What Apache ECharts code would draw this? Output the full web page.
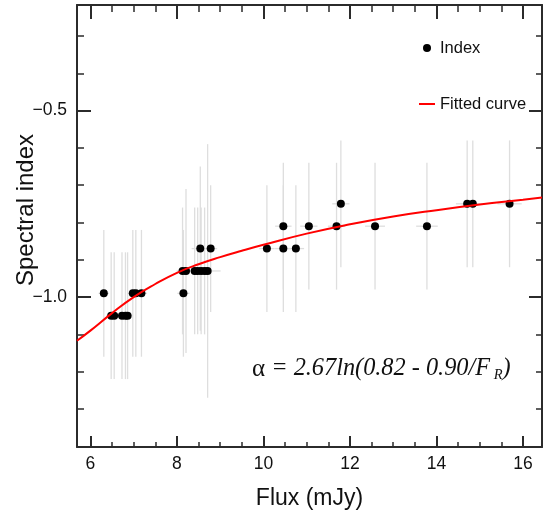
<!DOCTYPE html>
<html>
<head>
<meta charset="utf-8">
<script src="https://cdn.jsdelivr.net/npm/echarts@6/dist/echarts.min.js"></script>
<style>
  html, body { margin: 0; padding: 0; background: #fff; }
  #chart { width: 544px; height: 515px; }
</style>
</head>
<body>
<div id="chart"></div>
<script>
// observations: flux (mJy), spectral index and their errors
const flux = [6.31, 6.48, 6.55, 6.73, 6.81, 6.86, 6.98, 7.05, 7.18, 8.15, 8.13, 8.21, 8.41, 8.48, 8.56, 8.64, 8.71, 8.54, 8.78,
  10.08, 10.46, 10.46, 10.75, 11.05, 11.69, 11.79, 12.58, 13.78, 14.71, 14.84, 15.69]
const index = [-0.99, -1.05, -1.05, -1.05, -1.05, -1.05, -0.99, -0.99, -0.99, -0.99, -0.93, -0.93, -0.93, -0.93, -0.93, -0.93, -0.93, -0.87, -0.87,
  -0.87, -0.81, -0.87, -0.87, -0.81, -0.81, -0.75, -0.81, -0.81, -0.75, -0.75, -0.75]
const fluxErr = [0.12, 0.12, 0.12, 0.12, 0.12, 0.12, 0.13, 0.13, 0.13, 0.14, 0.14, 0.14, 0.15, 0.15, 0.15, 0.15, 0.3, 0.2, 0.15,
  0.18, 0.19, 0.19, 0.19, 0.2, 0.2, 0.2, 0.23, 0.25, 0.26, 0.26, 0.28]
const indexErr = [0.17, 0.17, 0.17, 0.17, 0.17, 0.17, 0.17, 0.17, 0.17, 0.17, 0.17, 0.22, 0.17, 0.17, 0.17, 0.17, 0.34, 0.22, 0.17,
  0.17, 0.17, 0.17, 0.17, 0.17, 0.17, 0.17, 0.17, 0.17, 0.17, 0.17, 0.17]

// fitted curve
const fitFlux = [5.69, 6.0, 6.5, 7.0, 7.5, 8.0, 8.5, 9.0, 9.5, 10.0, 11.0, 12.0, 13.0, 14.0, 15.0, 16.0, 16.44]
const fitIndex = [-1.117, -1.090, -1.043, -1.000, -0.965, -0.935, -0.912, -0.893, -0.876, -0.860, -0.830, -0.805, -0.784, -0.767, -0.752, -0.739, -0.733]

// ticks
const xMajor = [6, 8, 10, 12, 14, 16]
const xMinor = [6.5, 7, 7.5, 8.5, 9, 9.5, 10.5, 11, 11.5, 12.5, 13, 13.5, 14.5, 15, 15.5]
const yMajor = [-1.0, -0.5]
const yMinor = [-1.3, -1.2, -1.1, -0.9, -0.8, -0.7, -0.6, -0.4, -0.3]

const frameColor = '#2b2b2b'
const sans = 'Liberation Sans, Arial, sans-serif'
const serif = 'Liberation Serif, serif'

function edge(position, ticks, len, tickWidth, lineShow, labelShow, min, max) {
  return {
    type: 'value',
    position: position,
    min: min,
    max: max,
    axisLine: { show: lineShow, lineStyle: { color: frameColor, width: 2 } },
    axisTick: { show: true, inside: true, length: len, customValues: ticks, lineStyle: { color: frameColor, width: tickWidth } },
    axisLabel: {
      show: labelShow,
      customValues: ticks,
      color: '#111',
      fontSize: 17.5,
      fontFamily: sans,
      margin: position === 'left' ? 10 : 8,
      formatter: v => position === 'left' ? v.toFixed(1).replace('-', '\u2212') : String(v)
    },
    splitLine: { show: false }
  }
}

const bottomAxis = Object.assign(edge('bottom', xMajor, 11, 2, true, true, 5.69, 16.44), {
  name: 'Flux (mJy)',
  nameLocation: 'middle',
  nameGap: 40,
  nameTextStyle: { fontSize: 23, fontFamily: sans, color: '#111' }
})

const chart = echarts.init(document.getElementById('chart'))
chart.setOption({
  animation: false,
  grid: { left: 77, right: 2, top: 5, bottom: 67 },
  xAxis: [
    bottomAxis,
    edge('bottom', xMinor, 5, 1.5, false, false, 5.69, 16.44),
    edge('top', xMajor, 14, 2, true, false, 5.69, 16.44),
    edge('top', xMinor, 7, 1.5, false, false, 5.69, 16.44)
  ],
  yAxis: [
    edge('left', yMajor, 14, 2, true, true, -1.402, -0.217),
    edge('left', yMinor, 7, 1.5, false, false, -1.402, -0.217),
    edge('right', yMajor, 13, 2, true, false, -1.402, -0.217),
    edge('right', yMinor, 6, 1.5, false, false, -1.402, -0.217)
  ],
  legend: {
    left: 413,
    top: 33,
    orient: 'vertical',
    itemWidth: 16,
    itemHeight: 8,
    itemGap: 36,
    selectedMode: false,
    textStyle: { fontSize: 16.5, fontFamily: sans, color: '#111', lineHeight: 20 },
    data: ['Index', { name: 'Fitted curve', itemStyle: { opacity: 0 } }]
  },
  graphic: [
    {
      type: 'text',
      x: 26,
      y: 210,
      rotation: Math.PI / 2,
      style: { text: 'Spectral index', font: '24px ' + sans, fill: '#111', align: 'center', verticalAlign: 'middle' }
    },
    {
      type: 'text',
      left: 252,
      top: 342,
      style: {
        text: '{g|\u03b1}{i| = 2.67ln(0.82 - 0.90/F}{s| R}{i|)}',
        rich: {
          g: { fontFamily: serif, fontSize: 25, fill: '#111', lineHeight: 26, verticalAlign: 'top' },
          i: { fontFamily: serif, fontStyle: 'italic', fontSize: 24.3, fill: '#111', lineHeight: 26, verticalAlign: 'top' },
          s: { fontFamily: serif, fontStyle: 'italic', fontSize: 14.5, fill: '#111', lineHeight: 14, padding: [26, 0, 0, 0], verticalAlign: 'bottom' }
        }
      }
    }
  ],
  series: [
    {
      name: 'errors',
      type: 'custom',
      xAxisIndex: 0,
      yAxisIndex: 0,
      encode: { x: 0, y: 1 },
      data: flux.map((f, i) => [f, index[i], fluxErr[i], indexErr[i]]),
      renderItem: (params, api) => {
        const x = api.value(0)
        const y = api.value(1)
        const top = api.coord([x, y + api.value(3)])
        const bot = api.coord([x, y - api.value(3)])
        const l = api.coord([x - api.value(2), y])
        const r = api.coord([x + api.value(2), y])
        const style = { stroke: '#dedede', lineWidth: 1.3 }
        return {
          type: 'group',
          children: [
            { type: 'line', shape: { x1: top[0], y1: top[1], x2: bot[0], y2: bot[1] }, style: style },
            { type: 'line', shape: { x1: l[0], y1: l[1], x2: r[0], y2: r[1] }, style: style }
          ]
        }
      },
      z: 1
    },
    {
      name: 'Index',
      type: 'scatter',
      symbol: 'circle',
      symbolSize: 8,
      itemStyle: { color: '#000', opacity: 1 },
      data: flux.map((f, i) => [f, index[i]]),
      z: 2
    },
    {
      name: 'Fitted curve',
      type: 'line',
      smooth: true,
      symbol: 'none',
      lineStyle: { color: '#ff0000', width: 2 },
      itemStyle: { color: '#ff0000' },
      data: fitFlux.map((f, i) => [f, fitIndex[i]]),
      z: 3
    }
  ]
})
</script>
</body>
</html>
